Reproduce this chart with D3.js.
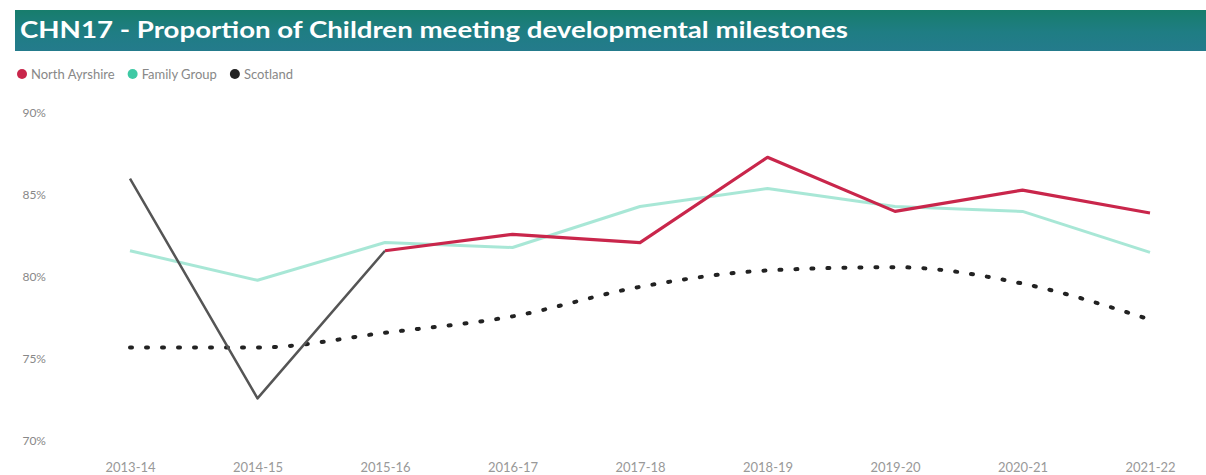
<!DOCTYPE html>
<html>
<head>
<meta charset="utf-8">
<script src="https://cdn.jsdelivr.net/npm/d3@7"></script>
<style>
  html, body { margin: 0; padding: 0; background: #ffffff; }
  svg { display: block; }
</style>
</head>
<body>
<svg id="chart" width="1206" height="475"></svg>
<script>
// Reporting years (x axis)
const years = ["2013-14", "2014-15", "2015-16", "2016-17", "2017-18", "2018-19", "2019-20", "2020-21", "2021-22"];

// % of children meeting developmental milestones
const council     = [86.0, 72.6, 81.6, 82.6, 82.1, 87.3, 84.0, 85.3, 83.9];
const familyGroup = [81.6, 79.8, 82.1, 81.8, 84.3, 85.4, 84.3, 84.0, 81.5];
const scotland    = [75.7, 75.7, 76.6, 77.6, 79.4, 80.4, 80.6, 79.6, 77.4];

// Axis ticks
const yTicks = [70, 75, 80, 85, 90];

const legendItems = [
  { name: "North Ayrshire", color: "#c9264b" },
  { name: "Family Group",   color: "#3ec9a4" },
  { name: "Scotland",       color: "#222222" }
];

const svg = d3.select("#chart");
const W = 1206, H = 475;

// Title banner
const defs = svg.append("defs");
const grad = defs.append("linearGradient").attr("id", "bannerGrad")
  .attr("x1", "0").attr("y1", "0").attr("x2", "0").attr("y2", "1");
grad.append("stop").attr("offset", "0%").attr("stop-color", "#177d6c");
grad.append("stop").attr("offset", "55%").attr("stop-color", "#1f7d84");
grad.append("stop").attr("offset", "100%").attr("stop-color", "#247b8c");

svg.append("rect")
  .attr("x", 15).attr("y", 10).attr("width", W - 15).attr("height", 41)
  .attr("fill", "url(#bannerGrad)");

svg.append("text")
  .attr("x", 20).attr("y", 38)
  .attr("fill", "#ffffff")
  .attr("font-family", "Lato, 'Open Sans', sans-serif")
  .attr("font-weight", "bold")
  .attr("font-size", 23)
  .attr("textLength", 828)
  .attr("lengthAdjust", "spacingAndGlyphs")
  .text("CHN17 - Proportion of Children meeting developmental milestones");

// Legend
const legend = svg.append("g").attr("transform", "translate(22,74)");
let lx = 0;
legendItems.forEach(item => {
  const g = legend.append("g").attr("transform", `translate(${lx},0)`);
  g.append("circle").attr("r", 5).attr("cx", 0).attr("cy", 0).attr("fill", item.color);
  const t = g.append("text")
    .attr("x", 9).attr("y", 4.5)
    .attr("fill", "#888")
    .attr("font-family", "Lato, 'Open Sans', sans-serif")
    .attr("font-size", 13)
    .text(item.name);
  lx += 9 + t.node().getComputedTextLength() + 18;
});

// Scales
const x = d3.scalePoint().domain(years).range([130, 1150]);
const y = d3.scaleLinear().domain([70, 90]).range([441, 113]);

// Y axis labels
const yAxis = svg.append("g").attr("transform", "translate(46,0)")
  .call(d3.axisLeft(y).tickValues(yTicks).tickFormat(d => d + "%").tickSize(0).tickPadding(0));
yAxis.select(".domain").remove();
yAxis.selectAll("text")
  .attr("fill", "#888")
  .attr("font-family", "Lato, 'Open Sans', sans-serif")
  .attr("font-size", 12);

// X axis labels (bottom edge)
const xAxis = svg.append("g").attr("transform", "translate(0,463)")
  .call(d3.axisBottom(x).tickSize(0).tickPadding(0));
xAxis.select(".domain").remove();
xAxis.selectAll("text")
  .attr("fill", "#999")
  .attr("font-family", "Lato, 'Open Sans', sans-serif")
  .attr("font-size", 13);

// Lines
const line = d3.line().x((d, i) => x(years[i])).y(d => y(d));
const smooth = d3.line().x((d, i) => x(years[i])).y(d => y(d)).curve(d3.curveMonotoneX);

// Family group (light teal)
svg.append("path")
  .datum(familyGroup)
  .attr("d", line)
  .attr("fill", "none")
  .attr("stroke", "#3ec9a4")
  .attr("stroke-opacity", 0.45)
  .attr("stroke-width", 3)
  .attr("stroke-linejoin", "round");

// Scotland (dotted)
svg.append("path")
  .datum(scotland)
  .attr("d", smooth)
  .attr("fill", "none")
  .attr("stroke", "#222")
  .attr("stroke-width", 4)
  .attr("stroke-linecap", "round")
  .attr("stroke-dasharray", "2,14");

// Council: early years in grey, then red
const lineDefined = d3.line().defined(d => d !== null).x((d, i) => x(years[i])).y(d => y(d));
const councilEarly = council.map((v, i) => i <= 2 ? v : null);
svg.append("path")
  .datum(councilEarly)
  .attr("d", lineDefined)
  .attr("fill", "none")
  .attr("stroke", "#555")
  .attr("stroke-width", 2.5)
  .attr("stroke-linejoin", "round");

const councilLate = council.map((v, i) => i >= 2 ? v : null);
svg.append("path")
  .datum(councilLate)
  .attr("d", lineDefined)
  .attr("fill", "none")
  .attr("stroke", "#c9264b")
  .attr("stroke-width", 3.2)
  .attr("stroke-linejoin", "round");
</script>
</body>
</html>
